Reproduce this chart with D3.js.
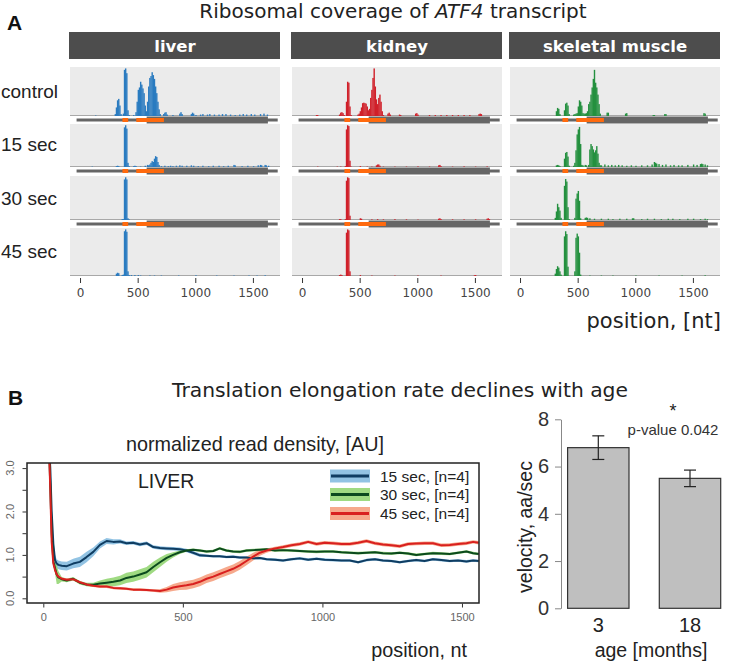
<!DOCTYPE html>
<html><head><meta charset="utf-8">
<script src="https://cdn.jsdelivr.net/npm/d3@7"></script>
<style>body{margin:0;background:#fff}svg{display:block}</style>
</head><body><svg id="c" width="756" height="663"></svg>
<script>
// ---------------- DATA ----------------
const tissues = ["liver", "kidney", "skeletal muscle"];
const conditions = ["control", "15 sec", "30 sec", "45 sec"];
const xTicksA = [0, 500, 1000, 1500];
// gene model of ATF4 transcript (nt)
const geneTranscript = [-30, 1715];
const geneCDS = [578, 1630];
const geneUORFs = [[368, 418], [488, 728]];
// ribosome coverage: [bin start (10 nt), normalized value]
const liverControl = [[130,0.01],[300,0.04],[310,0.18],[320,0.33],[330,0.36],[340,0.22],[350,0.04],[370,0.05],[380,0.97],[390,1.0],[400,0.9],[410,0.12],[420,0.02],[460,0.02],[480,0.08],[490,0.3],[500,0.55],[510,0.6],[520,0.72],[530,0.66],[540,0.58],[550,0.48],[560,0.22],[570,0.1],[580,0.3],[590,0.62],[600,0.8],[610,0.84],[620,0.92],[630,0.86],[640,0.78],[650,0.62],[660,0.48],[670,0.3],[680,0.14],[690,0.04],[720,0.04],[730,0.07],[740,0.08],[750,0.03],[800,0.02],[860,0.05],[870,0.08],[880,0.04],[960,0.04],[970,0.07],[980,0.05],[1000,0.02],[1040,0.03],[1060,0.04],[1100,0.03],[1120,0.04],[1160,0.03],[1200,0.03],[1230,0.04],[1260,0.04],[1300,0.03],[1340,0.02],[1380,0.03],[1410,0.04],[1440,0.03],[1480,0.04],[1510,0.03],[1560,0.04],[1590,0.05],[1620,0.03]];
const liver15 = [[100,0.01],[310,0.02],[320,0.03],[330,0.02],[380,0.95],[390,1.0],[400,0.92],[410,0.1],[420,0.02],[460,0.02],[470,0.03],[480,0.02],[520,0.01],[560,0.03],[580,0.05],[590,0.04],[600,0.06],[610,0.1],[620,0.14],[630,0.12],[640,0.2],[650,0.26],[660,0.24],[670,0.12],[680,0.05],[700,0.02],[730,0.03],[760,0.02],[780,0.03],[800,0.02],[830,0.03],[860,0.04],[880,0.03],[920,0.03],[960,0.04],[980,0.03],[1020,0.02],[1060,0.03],[1110,0.02],[1150,0.03],[1200,0.03],[1240,0.02],[1280,0.03],[1330,0.05],[1340,0.04],[1400,0.02],[1450,0.03],[1500,0.02],[1540,0.04],[1560,0.05],[1570,0.04],[1600,0.05],[1610,0.04],[1630,0.03]];
const liver30 = [[360,0.02],[370,0.02],[380,0.95],[390,1.0],[400,0.95],[410,0.04],[420,0.015]];
const liver45 = [[310,0.05],[320,0.07],[330,0.06],[360,0.02],[370,0.03],[380,0.96],[390,1.0],[400,0.95],[410,0.1],[420,0.02],[440,0.02],[470,0.02],[500,0.02],[520,0.01],[600,0.01],[640,0.01],[700,0.01],[850,0.01],[1000,0.015],[1180,0.01],[1330,0.01],[1460,0.01],[1530,0.01],[1600,0.015]];
const kidneyControl = [[120,0.02],[130,0.02],[320,0.03],[330,0.07],[340,0.08],[350,0.06],[360,0.02],[380,0.3],[390,0.72],[400,0.7],[410,0.2],[420,0.02],[480,0.03],[490,0.05],[500,0.1],[510,0.18],[520,0.27],[530,0.28],[540,0.27],[550,0.26],[560,0.2],[570,0.12],[580,0.15],[590,0.38],[600,0.55],[610,0.8],[620,1.0],[630,0.62],[640,0.35],[650,0.25],[660,0.38],[670,0.45],[680,0.3],[690,0.1],[700,0.02],[740,0.05],[750,0.07],[760,0.03],[840,0.03],[850,0.02],[980,0.05],[990,0.06],[1000,0.03],[1100,0.02],[1150,0.02],[1200,0.02],[1250,0.02],[1300,0.02],[1350,0.02],[1400,0.02],[1450,0.02],[1530,0.04],[1540,0.05],[1550,0.04]];
const kidney15 = [[130,0.01],[300,0.01],[330,0.01],[370,0.02],[380,0.9],[390,1.0],[400,0.98],[410,0.15],[420,0.01],[500,0.02],[560,0.01],[600,0.01],[640,0.04],[650,0.06],[660,0.06],[670,0.03],[700,0.01],[800,0.01],[900,0.01],[1000,0.015],[1100,0.01],[1180,0.04],[1190,0.05],[1200,0.02],[1300,0.01],[1400,0.015],[1500,0.01],[1600,0.015]];
const kidney30 = [[320,0.02],[330,0.02],[370,0.02],[380,0.92],[390,1.0],[400,0.98],[410,0.1],[500,0.04],[510,0.03],[600,0.015],[650,0.02],[700,0.015],[800,0.02],[900,0.015],[1000,0.01],[1180,0.03],[1190,0.04],[1200,0.02],[1300,0.015],[1400,0.015],[1500,0.015],[1600,0.03],[1610,0.04],[1620,0.02]];
const kidney45 = [[320,0.02],[330,0.03],[340,0.02],[380,0.93],[390,1.0],[400,0.98],[410,0.1],[500,0.02],[600,0.01],[800,0.01],[1000,0.01],[1200,0.01],[1490,0.015],[1500,0.02]];
const muscleControl = [[310,0.1],[320,0.17],[330,0.15],[340,0.04],[380,0.12],[390,0.26],[400,0.28],[410,0.22],[420,0.04],[460,0.03],[470,0.04],[480,0.05],[490,0.06],[500,0.2],[510,0.33],[520,0.3],[530,0.22],[540,0.06],[550,0.05],[560,0.05],[570,0.06],[580,0.1],[590,0.25],[600,0.3],[610,0.45],[620,0.6],[630,0.78],[640,0.97],[650,0.7],[660,0.6],[670,0.45],[680,0.25],[690,0.05],[750,0.07],[760,0.07],[910,0.05],[920,0.06],[1150,0.02],[1160,0.02],[1250,0.04],[1260,0.04],[1590,0.06],[1600,0.05]];
const muscle15 = [[310,0.04],[320,0.05],[330,0.04],[340,0.02],[380,0.2],[390,0.34],[400,0.36],[410,0.25],[420,0.03],[460,0.03],[470,0.1],[480,0.4],[490,0.78],[500,0.9],[510,0.96],[520,0.55],[530,0.05],[540,0.04],[560,0.05],[570,0.04],[590,0.05],[600,0.42],[610,0.55],[620,0.5],[630,0.42],[640,0.35],[650,0.4],[660,0.5],[670,0.32],[680,0.1],[690,0.04],[700,0.04],[730,0.06],[760,0.04],[790,0.05],[820,0.04],[850,0.05],[880,0.04],[920,0.03],[960,0.04],[1000,0.03],[1050,0.04],[1100,0.04],[1140,0.06],[1160,0.12],[1170,0.1],[1180,0.08],[1200,0.07],[1230,0.05],[1260,0.06],[1300,0.04],[1330,0.05],[1370,0.04],[1400,0.04],[1450,0.05],[1500,0.06],[1530,0.05],[1560,0.07],[1570,0.08],[1580,0.07],[1600,0.06],[1620,0.04]];
const muscle30 = [[300,0.05],[310,0.2],[320,0.38],[330,0.3],[340,0.22],[350,0.05],[380,0.8],[390,0.96],[400,0.9],[410,0.3],[420,0.02],[470,0.05],[480,0.5],[490,0.62],[500,0.68],[510,0.45],[520,0.04],[560,0.05],[570,0.06],[580,0.05],[600,0.04],[640,0.03],[700,0.03],[760,0.03],[800,0.02],[860,0.03],[920,0.03],[970,0.04],[980,0.04],[1050,0.02],[1100,0.03],[1160,0.03],[1220,0.02],[1280,0.03],[1320,0.03],[1380,0.02],[1450,0.03],[1500,0.03],[1560,0.02],[1600,0.03],[1620,0.02]];
const muscle45 = [[300,0.05],[310,0.15],[320,0.21],[330,0.18],[340,0.1],[350,0.03],[380,0.85],[390,0.96],[400,0.9],[410,0.2],[470,0.1],[480,0.82],[490,0.91],[500,0.85],[510,0.5],[520,0.03],[600,0.01],[700,0.01],[800,0.01],[1000,0.01],[1200,0.01],[1400,0.01],[1600,0.015]];
const coverage = [
  [liverControl, liver15, liver30, liver45],
  [kidneyControl, kidney15, kidney30, kidney45],
  [muscleControl, muscle15, muscle30, muscle45]
];

// Panel B: metagene read density
const densitySeries = ["15 sec, [n=4]", "30 sec, [n=4]", "45 sec, [n=4]"];
const densityPos = [20,25,30,36,42,48,54,66,84,107,131,155,179,203,227,251,275,298,322,346,370,394,418,442,465,489,513,537,561,585,609,632,656,680,704,728,752,776,800,830,859,889,919,949,979,1008,1038,1068,1098,1128,1158,1188,1217,1247,1277,1307,1336,1366,1396,1426,1456,1486,1516,1540,1560];
const density15 = [3.6,3.0,2.0,1.25,0.88,0.8,0.77,0.75,0.74,0.8,0.84,0.95,1.07,1.23,1.32,1.3,1.31,1.27,1.28,1.24,1.27,1.18,1.16,1.15,1.14,1.13,1.1,1.05,0.99,0.98,0.97,0.97,0.95,0.96,0.94,0.94,0.92,0.93,0.9,0.89,0.87,0.9,0.92,0.89,0.91,0.89,0.88,0.87,0.87,0.83,0.88,0.9,0.87,0.86,0.83,0.86,0.88,0.86,0.9,0.88,0.86,0.87,0.85,0.87,0.86];
const band15 = [0.1,0.1,0.1,0.12,0.12,0.1,0.1,0.1,0.1,0.11,0.12,0.12,0.1,0.08,0.07,0.06,0.05,0.04,0.04,0.04,0.04,0.04,0.04,0.04,0.04,0.04,0.04,0.04,0.04,0.03,0.03,0.03,0.03,0.03,0.03,0.03,0.03,0.03,0.03,0.03,0.03,0.03,0.03,0.03,0.03,0.03,0.03,0.03,0.03,0.03,0.03,0.03,0.03,0.03,0.03,0.03,0.03,0.03,0.03,0.03,0.03,0.03,0.03,0.03,0.03];
const density30 = [3.6,2.6,1.5,0.85,0.7,0.55,0.48,0.44,0.41,0.45,0.36,0.32,0.31,0.34,0.36,0.38,0.41,0.47,0.5,0.55,0.6,0.72,0.83,0.93,1.0,1.06,1.1,1.12,1.1,1.08,1.09,1.15,1.1,1.08,1.07,1.1,1.11,1.12,1.13,1.1,1.11,1.1,1.09,1.08,1.07,1.08,1.08,1.06,1.05,1.04,1.05,1.06,1.04,1.03,1.05,1.03,1.0,1.02,1.04,1.03,1.02,1.05,1.08,1.04,1.02];
const band30 = [0.05,0.05,0.05,0.08,0.12,0.22,0.15,0.05,0.04,0.04,0.04,0.04,0.05,0.07,0.09,0.1,0.11,0.12,0.12,0.12,0.12,0.12,0.11,0.09,0.06,0.04,0.03,0.03,0.03,0.03,0.03,0.03,0.03,0.03,0.03,0.03,0.03,0.03,0.03,0.03,0.03,0.03,0.03,0.03,0.03,0.03,0.03,0.03,0.03,0.03,0.03,0.03,0.03,0.03,0.03,0.03,0.03,0.03,0.03,0.03,0.03,0.03,0.03,0.03,0.03];
const density45 = [3.6,2.5,1.3,0.8,0.65,0.55,0.5,0.45,0.43,0.44,0.37,0.32,0.29,0.27,0.27,0.24,0.23,0.22,0.2,0.2,0.19,0.18,0.17,0.2,0.25,0.28,0.3,0.33,0.38,0.45,0.5,0.56,0.62,0.68,0.76,0.86,0.96,1.05,1.1,1.15,1.18,1.22,1.25,1.3,1.25,1.28,1.27,1.25,1.25,1.28,1.32,1.27,1.24,1.22,1.2,1.25,1.26,1.27,1.27,1.22,1.23,1.25,1.27,1.3,1.28];
const band45 = [0.04,0.04,0.04,0.04,0.04,0.04,0.04,0.03,0.03,0.03,0.03,0.03,0.03,0.03,0.03,0.03,0.03,0.03,0.03,0.03,0.03,0.03,0.04,0.06,0.08,0.09,0.1,0.1,0.1,0.1,0.1,0.1,0.1,0.1,0.1,0.1,0.09,0.07,0.05,0.04,0.04,0.04,0.04,0.04,0.04,0.04,0.04,0.04,0.04,0.04,0.04,0.04,0.04,0.04,0.04,0.04,0.04,0.04,0.04,0.04,0.04,0.04,0.04,0.04,0.04];
const densityYTicks = [0, 1, 2, 3];
const densityYMinor = [0.5, 1.5, 2.5];
const densityXTicks = [0, 500, 1000, 1500];

// Panel B: velocity bars
const ages = ["3", "18"];
const velocity = [6.8, 5.5];
const velocityErr = [0.5, 0.35];
const velocityTicks = [0, 2, 4, 6, 8];

// ---------------- DRAW ----------------
const svg = d3.select("#c");
svg.append("rect").attr("width", 756).attr("height", 663).attr("fill", "#fff");
const SANS = "'Liberation Sans', Arial, sans-serif";
const DEJ = "'DejaVu Sans', Verdana, sans-serif";
const tissueColors = ["#2a7bc0", "#d0202a", "#24903f"];

// Panel labels and titles
svg.append("text").attr("x", 7).attr("y", 30).text("A")
  .attr("font-family", SANS).attr("font-weight", "bold").attr("font-size", 21).attr("fill", "#111");
const tA = svg.append("text").attr("x", 393).attr("y", 18).attr("text-anchor", "middle")
  .attr("font-family", DEJ).attr("font-size", 20).attr("fill", "#222");
tA.append("tspan").text("Ribosomal coverage of ");
tA.append("tspan").attr("font-style", "italic").text("ATF4");
tA.append("tspan").text(" transcript");

const panelLeft = [70, 292, 510];
const panelW = 210;
const rowTop = [67, 124, 176, 228];
const rowBot = [116, 167, 220, 276];
const geneY = [120, 171, 224];
const rowLabelY = [98, 151, 205, 258];

conditions.forEach((c, r) => {
  svg.append("text").attr("x", 1).attr("y", rowLabelY[r]).text(c)
    .attr("font-family", SANS).attr("font-size", 19).attr("fill", "#222");
});

tissues.forEach((t, ti) => {
  const x0 = panelLeft[ti];
  const xs = d3.scaleLinear().domain([-87, 1735]).range([x0, x0 + panelW]);
  svg.append("rect").attr("x", x0 - 1).attr("y", 32).attr("width", panelW + 1).attr("height", 27).attr("fill", "#4d4d4d");
  svg.append("text").attr("x", x0 + panelW / 2).attr("y", 51.5).attr("text-anchor", "middle").text(t)
    .attr("font-family", DEJ).attr("font-weight", "bold").attr("font-size", 16.5).attr("fill", "#fff");
  conditions.forEach((c, r) => {
    const ys = d3.scaleLinear().domain([0, 1.03]).range([rowBot[r], rowTop[r]]);
    const g = svg.append("g");
    g.append("rect").attr("x", x0).attr("y", rowTop[r]).attr("width", panelW).attr("height", rowBot[r] - rowTop[r]).attr("fill", "#ebebeb");
    g.append("line").attr("x1", x0).attr("x2", x0 + panelW).attr("y1", rowBot[r] - 0.5).attr("y2", rowBot[r] - 0.5)
      .attr("stroke", "#a8a8a8").attr("stroke-width", 1);
    g.selectAll("rect.bin").data(coverage[ti][r]).join("rect").attr("class", "bin")
      .attr("x", d => xs(d[0]))
      .attr("width", d => xs(d[0] + 10) - xs(d[0]) + 0.25)
      .attr("y", d => ys(d[1]))
      .attr("height", d => rowBot[r] - ys(d[1]))
      .attr("fill", tissueColors[ti]);
    if (r < 3) {
      const gy = geneY[r];
      g.append("rect").attr("x", xs(geneTranscript[0])).attr("width", xs(geneTranscript[1]) - xs(geneTranscript[0]))
        .attr("y", gy - 1.5).attr("height", 3).attr("fill", "#666");
      g.append("rect").attr("x", xs(geneCDS[0])).attr("width", xs(geneCDS[1]) - xs(geneCDS[0]))
        .attr("y", gy - 3.5).attr("height", 7).attr("fill", "#666");
      g.selectAll("rect.uorf").data(geneUORFs).join("rect").attr("class", "uorf")
        .attr("x", d => xs(d[0])).attr("width", d => xs(d[1]) - xs(d[0]))
        .attr("y", gy - 2).attr("height", 4).attr("fill", "#ff6a0e");
    }
  });
  const ax = svg.append("g").attr("transform", `translate(0,278)`)
    .call(d3.axisBottom(xs).tickValues(xTicksA).tickFormat(d3.format("d")).tickSize(5).tickPadding(5));
  ax.select(".domain").remove();
  ax.selectAll("line").attr("stroke", "#333");
  ax.selectAll("text").attr("font-family", DEJ).attr("font-size", 12).attr("fill", "#444");
});
svg.append("text").attr("x", 721).attr("y", 328).attr("text-anchor", "end").text("position, [nt]")
  .attr("font-family", DEJ).attr("font-size", 21).attr("fill", "#222");

// ---------- Panel B ----------
svg.append("text").attr("x", 8).attr("y", 405).text("B")
  .attr("font-family", SANS).attr("font-weight", "bold").attr("font-size", 21).attr("fill", "#111");
svg.append("text").attr("x", 400).attr("y", 397).attr("text-anchor", "middle")
  .text("Translation elongation rate declines with age")
  .attr("font-family", DEJ).attr("font-size", 20.3).attr("fill", "#222");
svg.append("text").attr("x", 255).attr("y", 451).attr("text-anchor", "middle")
  .text("normalized read density, [AU]")
  .attr("font-family", SANS).attr("font-size", 19.8).attr("fill", "#222");

const bx0 = 27, bx1 = 479, by0 = 463, by1 = 603;
const xB = d3.scaleLinear().domain([-58.4, 1561]).range([bx0, bx1]);
const yB = d3.scaleLinear().domain([-0.108, 3.117]).range([by1, by0]);
svg.append("defs").append("clipPath").attr("id", "clipB").append("rect")
  .attr("x", bx0).attr("y", by0).attr("width", bx1 - bx0).attr("height", by1 - by0);
const plotB = svg.append("g").attr("clip-path", "url(#clipB)");
const seriesDefs = [
  { v: density15, b: band15, line: "#0f3d62", fill: "#7fb8de" },
  { v: density30, b: band30, line: "#0b4a1e", fill: "#8ed46c" },
  { v: density45, b: band45, line: "#d9201f", fill: "#f59a78" }
];
const areaGen = d3.area().x(d => xB(d.x)).y0(d => yB(d.v - d.b)).y1(d => yB(d.v + d.b));
const lineGen = d3.line().x(d => xB(d.x)).y(d => yB(d.v));
const seriesPts = seriesDefs.map(s => densityPos.map((x, i) => ({ x, v: s.v[i], b: s.b[i] })));
seriesDefs.forEach((s, i) => {
  plotB.append("path").attr("d", areaGen(seriesPts[i])).attr("fill", s.fill).attr("opacity", 0.85);
});
seriesDefs.forEach((s, i) => {
  plotB.append("path").attr("d", lineGen(seriesPts[i])).attr("fill", "none")
    .attr("stroke", s.line).attr("stroke-width", 2).attr("stroke-linejoin", "round");
});
svg.append("rect").attr("x", bx0).attr("y", by0).attr("width", bx1 - bx0).attr("height", by1 - by0)
  .attr("fill", "none").attr("stroke", "#222").attr("stroke-width", 1.5);
const yAx = svg.append("g").attr("transform", `translate(${bx0 - 0.5},0)`)
  .call(d3.axisLeft(yB).tickValues(densityYTicks.concat(densityYMinor)).tickSize(4).tickFormat(""));
yAx.select(".domain").remove();
yAx.selectAll("line").attr("stroke", "#333");
svg.selectAll("text.ylabB").data(densityYTicks).join("text").attr("class", "ylabB")
  .attr("transform", d => `translate(14,${yB(d)}) rotate(-90)`).attr("text-anchor", "middle")
  .text(d => d3.format(".1f")(d))
  .attr("font-family", SANS).attr("font-size", 11).attr("fill", "#666");
const xAx = svg.append("g").attr("transform", `translate(0,${by1 + 0.5})`)
  .call(d3.axisBottom(xB).tickValues(densityXTicks).tickFormat(d3.format("d")).tickSize(4).tickPadding(6));
xAx.select(".domain").remove();
xAx.selectAll("line").attr("stroke", "#333");
xAx.selectAll("text").attr("font-family", SANS).attr("font-size", 11).attr("fill", "#666");
svg.append("text").attr("x", 467).attr("y", 657).attr("text-anchor", "end").text("position, nt")
  .attr("font-family", SANS).attr("font-size", 19.8).attr("fill", "#222");
svg.append("text").attr("x", 138).attr("y", 488).text("LIVER")
  .attr("font-family", SANS).attr("font-size", 19.5).attr("fill", "#222");
const legY = [476, 494.5, 513.5];
densitySeries.forEach((name, i) => {
  svg.append("rect").attr("x", 330).attr("y", legY[i] - 6.5).attr("width", 40).attr("height", 13)
    .attr("fill", seriesDefs[i].fill).attr("opacity", 0.85);
  svg.append("line").attr("x1", 331).attr("x2", 369).attr("y1", legY[i]).attr("y2", legY[i])
    .attr("stroke", seriesDefs[i].line).attr("stroke-width", 3);
  svg.append("text").attr("x", 380).attr("y", legY[i] + 5.5).text(name)
    .attr("font-family", SANS).attr("font-size", 15.5).attr("fill", "#222");
});

// ---------- Bar chart ----------
const yV = d3.scaleLinear().domain([0, 8]).range([608.3, 419.3]);
const xV = d3.scalePoint().domain(ages).range([598.3, 690]);
const barW = 61.4;
const vAx = svg.append("g").attr("transform", "translate(561,0)")
  .call(d3.axisLeft(yV).tickValues(velocityTicks).tickSize(6).tickSizeOuter(0).tickPadding(6));
vAx.select(".domain").attr("stroke", "#888");
vAx.selectAll("line").attr("stroke", "#888");
vAx.selectAll("text").attr("font-family", SANS).attr("font-size", 20).attr("fill", "#333");
svg.selectAll("rect.vbar").data(ages).join("rect").attr("class", "vbar")
  .attr("x", d => xV(d) - barW / 2).attr("width", barW)
  .attr("y", (d, i) => yV(velocity[i])).attr("height", (d, i) => yV(0) - yV(velocity[i]))
  .attr("fill", "#bfbfbf").attr("stroke", "#333").attr("stroke-width", 1.2);
ages.forEach((a, i) => {
  const cx = xV(a), hi = yV(velocity[i] + velocityErr[i]), lo = yV(velocity[i] - velocityErr[i]);
  const g = svg.append("g").attr("stroke", "#222").attr("stroke-width", 1.2);
  g.append("line").attr("x1", cx).attr("x2", cx).attr("y1", hi).attr("y2", lo);
  g.append("line").attr("x1", cx - 6).attr("x2", cx + 6).attr("y1", hi).attr("y2", hi);
  g.append("line").attr("x1", cx - 6).attr("x2", cx + 6).attr("y1", lo).attr("y2", lo);
  svg.append("text").attr("x", cx).attr("y", 632).attr("text-anchor", "middle").text(a)
    .attr("font-family", SANS).attr("font-size", 20).attr("fill", "#222");
});
svg.append("text").attr("x", 651).attr("y", 657).attr("text-anchor", "middle").text("age [months]")
  .attr("font-family", SANS).attr("font-size", 19.5).attr("fill", "#222");
svg.append("text").attr("transform", "translate(532,527) rotate(-90)").attr("text-anchor", "middle")
  .text("velocity, aa/sec").attr("font-family", SANS).attr("font-size", 19.5).attr("fill", "#222");
svg.append("text").attr("x", 673).attr("y", 417).attr("text-anchor", "middle").text("*")
  .attr("font-family", SANS).attr("font-size", 18).attr("fill", "#222");
svg.append("text").attr("x", 673).attr("y", 435).attr("text-anchor", "middle").text("p-value 0.042")
  .attr("font-family", SANS).attr("font-size", 15).attr("fill", "#333");
</script></body></html>
